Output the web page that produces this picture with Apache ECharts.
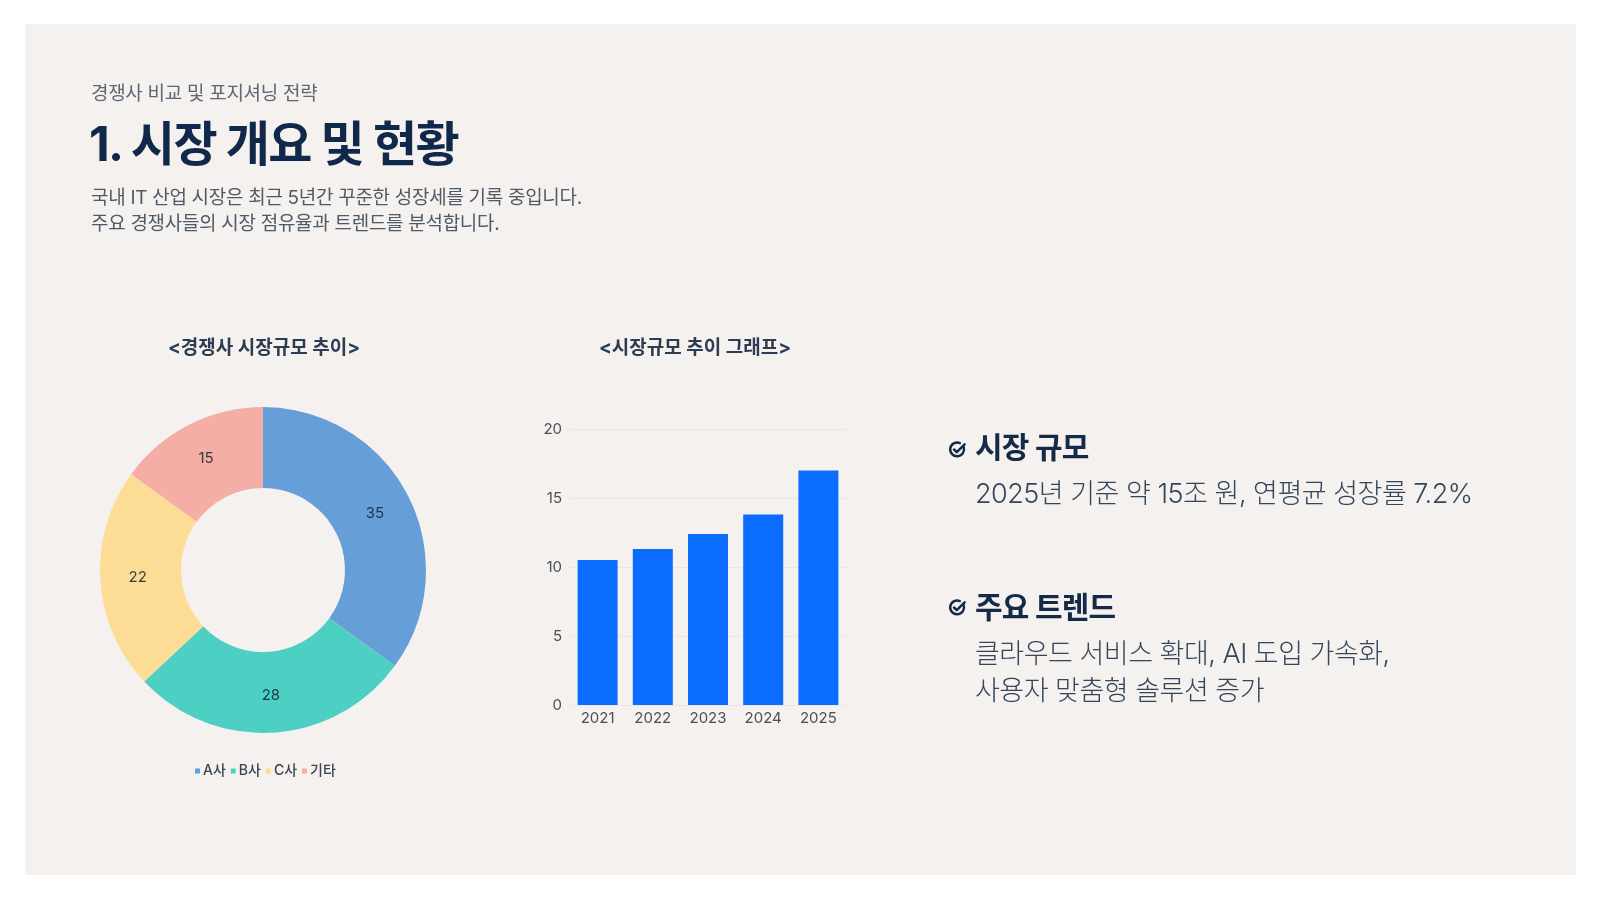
<!DOCTYPE html>
<html lang="ko">
<head>
<meta charset="utf-8">
<title>1. 시장 개요 및 현황</title>
<script src="https://cdn.jsdelivr.net/npm/echarts@6/dist/echarts.min.js"></script>
<style>
    html, body { margin: 0; padding: 0; background: #ffffff; }
    body { width: 1600px; height: 901px; position: relative; overflow: hidden;
           font-family: Inter, 'Noto Sans CJK KR', sans-serif; }
    .panel { position: absolute; left: 25px; top: 24px; width: 1551px; height: 851px; background: #f5f1ee; }
    #chart { position: absolute; left: 0; top: 0; width: 1600px; height: 901px; }
    .txt { position: absolute; white-space: nowrap; }
    .sub { left: 91px; top: 84px; font-size: 19px; line-height: 1; color: #5d6775; letter-spacing: -0.3px; }
    .title { left: 89px; top: 120px; font-size: 48px; line-height: 1; font-weight: 700; color: #10294a; letter-spacing: -1.6px; }
    .desc { left: 91px; top: 185px; font-size: 19px; line-height: 26px; color: #4f5a68; letter-spacing: -0.3px; }
    .head { left: 975px; font-size: 30px; line-height: 1; font-weight: 700; color: #142a47; letter-spacing: -0.8px; }
    .body { left: 975px; font-size: 27px; font-weight: 300; line-height: 37px; color: #34465c; letter-spacing: -0.5px; }
    .icon { position: absolute; width: 19px; height: 19px; }
</style>
</head>
<body>
<div class="panel"></div>
<div id="chart"></div>

<div class="txt sub">경쟁사 비교 및 포지셔닝 전략</div>
<div class="txt title">1. 시장 개요 및 현황</div>
<div class="txt desc">국내 IT 산업 시장은 최근 5년간 꾸준한 성장세를 기록 중입니다.<br>주요 경쟁사들의 시장 점유율과 트렌드를 분석합니다.</div>

<svg class="icon" style="left:948px;top:440px" viewBox="0 0 20 20"><path d="M16.5 7.5 A7.3 7.3 0 1 1 12.5 3.2" fill="none" stroke="#142a47" stroke-width="2.6" stroke-linecap="round"/><path d="M6.3 10 L9.2 12.8 L17.5 4.5" fill="none" stroke="#142a47" stroke-width="2.6" stroke-linecap="round" stroke-linejoin="round"/></svg>
<div class="txt head" style="top:432px">시장 규모</div>
<div class="txt body" style="top:475px">2025년 기준 약 15조 원, 연평균 성장률 7.2%</div>

<svg class="icon" style="left:948px;top:598px" viewBox="0 0 20 20"><path d="M16.5 7.5 A7.3 7.3 0 1 1 12.5 3.2" fill="none" stroke="#142a47" stroke-width="2.6" stroke-linecap="round"/><path d="M6.3 10 L9.2 12.8 L17.5 4.5" fill="none" stroke="#142a47" stroke-width="2.6" stroke-linecap="round" stroke-linejoin="round"/></svg>
<div class="txt head" style="top:592px">주요 트렌드</div>
<div class="txt body" style="top:635px">클라우드 서비스 확대, AI 도입 가속화,<br>사용자 맞춤형 솔루션 증가</div>

<script>
    // 경쟁사 점유율 (도넛)
    var shareNames = ['A사', 'B사', 'C사', '기타'];
    var shareValues = [35, 28, 22, 15];
    var shareColors = ['#669fd7', '#4ecfc4', '#fddc95', '#f4aea6'];

    // 시장규모 추이 (막대)
    var years = ['2021', '2022', '2023', '2024', '2025'];
    var marketSize = [10.5, 11.3, 12.4, 13.8, 17.0];

    var font = "Inter, 'Noto Sans CJK KR', sans-serif";

    var chart = echarts.init(document.getElementById('chart'), null, {renderer: 'canvas'});
    window.addEventListener('resize', function () {
        chart.resize();
    });

    chart.setOption({
        backgroundColor: 'transparent',
        animation: false,
        textStyle: {fontFamily: font},
        title: [
            {text: '<경쟁사 시장규모 추이>', left: 259, top: 334, textAlign: 'center',
                textStyle: {fontSize: 19, fontWeight: 700, color: '#2c3d52', fontFamily: font}},
            {text: '<시장규모 추이 그래프>', left: 690, top: 334, textAlign: 'center',
                textStyle: {fontSize: 19, fontWeight: 700, color: '#2c3d52', fontFamily: font}}
        ],
        legend: {
            data: shareNames,
            left: 190, top: 759,
            icon: 'rect', itemWidth: 5, itemHeight: 5, itemGap: 5,
            textStyle: {fontSize: 14, fontWeight: 500, color: '#3a4350', fontFamily: font, padding: [0, 0, 0, -2]}
        },
        grid: {left: 570, top: 429, width: 276, height: 276},
        xAxis: {
            type: 'category', data: years,
            axisTick: {show: false},
            axisLine: {show: false},
            axisLabel: {fontSize: 15, color: '#4a4f57', margin: 6}
        },
        yAxis: {
            type: 'value', min: 0, max: 20, interval: 5,
            axisLabel: {fontSize: 15, color: '#4a4f57', margin: 8},
            splitLine: {lineStyle: {color: '#ebe6e1'}}
        },
        series: [
            {
                type: 'pie',
                center: [263, 570],
                radius: [82, 163],
                startAngle: 90,
                clockwise: true,
                label: {show: true, position: 'inside', formatter: '{c}', fontSize: 15,
                    color: 'rgba(20,32,48,0.85)', fontFamily: font},
                labelLine: {show: false},
                emphasis: {disabled: true},
                data: shareNames.map(function (name, i) {
                    return {name: name, value: shareValues[i], itemStyle: {color: shareColors[i]}};
                })
            },
            {
                type: 'bar',
                barWidth: 40,
                itemStyle: {color: '#0a6dff'},
                data: marketSize
            }
        ]
    });
</script>
</body>
</html>
